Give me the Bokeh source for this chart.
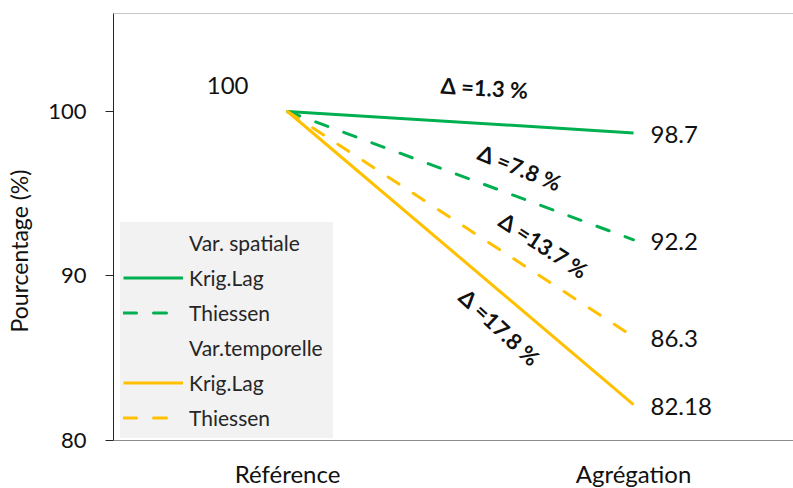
import math
from bokeh.plotting import figure
from bokeh.models import Range1d, FixedTicker, Span, Legend, LegendItem
from bokeh.core.properties import value
from bokeh.embed import file_html
from bokeh.resources import INLINE

# ---------------- data ----------------
categories = ["Référence", "Agrégation"]
group_titles = ["Var. spatiale", "Var.temporelle"]
series_names = ["Krig.Lag", "Thiessen", "Krig.Lag", "Thiessen"]
spatial_krig = [100, 98.7]
spatial_thiessen = [100, 92.2]
temporal_krig = [100, 82.18]
temporal_thiessen = [100, 86.3]
delta_labels = ["Δ =1.3 %", "Δ =7.8 %", "Δ =17.8 %", "Δ =13.7 %"]
y_ticks = [80, 90, 100]

# ---------------- styling ----------------
FONT = "Lato"
GREEN = "#00B050"
YELLOW = "#FFC000"
DASH = "13 17"
Y_TOP = 105.957
Y_BOTTOM = 77.082
X_START, X_END = 0.4971, 2.4624

xs = [i + 1 for i in range(len(categories))]
series = [spatial_krig, spatial_thiessen, temporal_krig, temporal_thiessen]
colors = [GREEN, GREEN, YELLOW, YELLOW]
dashes = ["solid", DASH, "solid", DASH]

p = figure(width=793, height=488, x_range=Range1d(X_START, X_END),
           y_range=Range1d(Y_BOTTOM, Y_TOP), output_backend="svg",
           toolbar_location=None, min_border_left=113, min_border_right=0,
           min_border_top=13, min_border_bottom=0, outline_line_color=None)
p.xgrid.visible = False
p.ygrid.visible = False

renderers = []
for ys, c, d in zip(series, colors, dashes):
    r = p.line(xs, ys, line_color=c, line_width=3, line_dash=d,
               line_cap="round" if d != "solid" else "butt")
    renderers.append(r)

# value labels
p.text(x=[xs[0]], y=[series[0][0]], text=[f"{series[0][0]:g}"], x_offset=-39, y_offset=-26,
       text_align="right", text_baseline="middle", text_font=value(FONT),
       text_font_size="24px", text_color="#111111")
p.text(x=[xs[1]] * len(series), y=[s[1] for s in series], text=[f"{s[1]:g}" for s in series],
       x_offset=17, y_offset=2, text_align="left", text_baseline="middle",
       text_font=value(FONT), text_font_size="24px", text_color="#111111")

# delta labels, anchored along each line
t_pos = [0.569, 0.671, 0.613, 0.74]
y_offs = [-36, -30, 36, -33]
angles = [-3.5, -22, -43, -33]
dx = [xs[0] + t * (xs[1] - xs[0]) for t in t_pos]
dy = [s[0] + t * (s[1] - s[0]) for s, t in zip(series, t_pos)]
p.text(x=dx, y=dy, text=delta_labels, y_offset=y_offs, angle=[math.radians(a) for a in angles],
       text_align="center", text_baseline="middle", text_font=value(FONT),
       text_font_style="bold", text_font_size="22px", text_color="#111111")

# top border line
p.add_layout(Span(location=Y_TOP, dimension="width", line_color="#8c8c8c", line_width=1))

# axes
yax = p.yaxis[0]
yax.ticker = FixedTicker(ticks=y_ticks)
yax.bounds = (y_ticks[0], Y_TOP)
yax.major_tick_out = 8
yax.major_tick_in = 0
yax.minor_tick_line_color = None
yax.axis_line_color = "#262626"
yax.major_tick_line_color = "#262626"
yax.major_label_text_font = FONT
yax.major_label_text_font_size = "22px"
yax.major_label_text_color = "#111111"
yax.major_label_standoff = 19
yax.axis_label = "Pourcentage (%)"
yax.axis_label_text_font = FONT
yax.axis_label_text_font_size = "23px"
yax.axis_label_text_font_style = "normal"
yax.axis_label_text_color = "#111111"
yax.axis_label_standoff = 12

xax = p.xaxis[0]
xax.ticker = FixedTicker(ticks=xs)
xax.major_label_overrides = {x: c for x, c in zip(xs, categories)}
xax.fixed_location = y_ticks[0]
xax.major_tick_line_color = None
xax.major_tick_out = 0
xax.major_tick_in = 0
xax.minor_tick_line_color = None
xax.axis_line_color = "#8c8c8c"
xax.major_label_text_font = FONT
xax.major_label_text_font_size = "24px"
xax.major_label_text_color = "#111111"
xax.major_label_standoff = 19

# legend
header = p.line(x=[], y=[], line_alpha=0)
items = [
    LegendItem(label=group_titles[0], renderers=[header]),
    LegendItem(label=series_names[0], renderers=[renderers[0]]),
    LegendItem(label=series_names[1], renderers=[renderers[1]]),
    LegendItem(label=group_titles[1], renderers=[header]),
    LegendItem(label=series_names[2], renderers=[renderers[2]]),
    LegendItem(label=series_names[3], renderers=[renderers[3]]),
]
legend = Legend(items=items, location=(7, 50), background_fill_color="#F2F2F2",
                background_fill_alpha=1, border_line_color="#F2F2F2", border_line_alpha=0,
                padding=3, spacing=0, margin=0, glyph_width=60, glyph_height=35,
                label_height=35, label_width=141, label_standoff=6,
                label_text_font=FONT, label_text_font_size="21px",
                label_text_color="#262626")
p.add_layout(legend)

open("out.html", "w").write(file_html(p, INLINE))
